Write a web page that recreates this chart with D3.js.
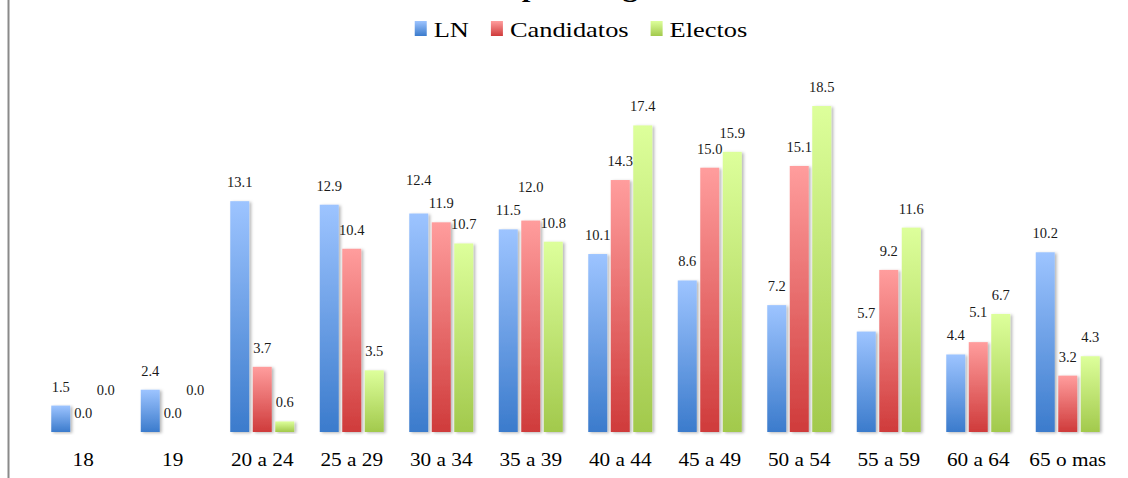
<!DOCTYPE html>
<html>
<head>
<meta charset="utf-8">
<script src="https://cdn.jsdelivr.net/npm/d3@7/dist/d3.min.js"></script>
<style>
  html, body { margin: 0; padding: 0; background: #fff; }
  svg { display: block; font-family: "Liberation Serif", "Times New Roman", serif; }
</style>
</head>
<body>
<div id="chart"></div>
<script>
const categories = ["18", "19", "20 a 24", "25 a 29", "30 a 34", "35 a 39", "40 a 44", "45 a 49", "50 a 54", "55 a 59", "60 a 64", "65 o mas"]
const seriesNames = ["LN", "Candidatos", "Electos"]
const lnValues = [1.5, 2.4, 13.1, 12.9, 12.4, 11.5, 10.1, 8.6, 7.2, 5.7, 4.4, 10.2]
const candidatosValues = [0.0, 0.0, 3.7, 10.4, 11.9, 12.0, 14.3, 15.0, 15.1, 9.2, 5.1, 3.2]
const electosValues = [0.0, 0.0, 0.6, 3.5, 10.7, 10.8, 17.4, 15.9, 18.5, 11.6, 6.7, 4.3]
const titleText = "Distribución por rango de edad"

const seriesValues = [lnValues, candidatosValues, electosValues]
const gradColors = [
  ["#9dc4ff", "#3b7bcc"],
  ["#ff9d9d", "#cf3b3b"],
  ["#ddff9b", "#a2c94c"]
]

const width = 1128
const height = 478
const baseY = 432

const svg = d3.select('#chart')
  .append('svg')
    .attr('width', width)
    .attr('height', height)

const defs = svg.append('defs')
gradColors.forEach((c, i) => {
  const g = defs.append('linearGradient')
    .attr('id', 'grad' + i)
    .attr('x1', 0).attr('y1', 0).attr('x2', 0).attr('y2', 1)
  g.append('stop').attr('offset', '0%').attr('stop-color', c[0])
  g.append('stop').attr('offset', '100%').attr('stop-color', c[1])
})
const shadow = defs.append('filter').attr('id', 'shadow')
  .attr('x', '-20%').attr('y', '-5%').attr('width', '160%').attr('height', '115%')
shadow.append('feDropShadow')
  .attr('dx', 2).attr('dy', 1).attr('stdDeviation', 1.6)
  .attr('flood-color', '#000').attr('flood-opacity', 0.28)

// left border of the chart area
svg.append('line')
  .attr('x1', 8.5).attr('x2', 8.5).attr('y1', 0).attr('y2', height)
  .attr('stroke', '#8a8a8a').attr('stroke-width', 2)

// title (mostly cut off at the top, as in the source picture)
svg.append('text')
  .attr('transform', 'translate(556, -3) scale(1.2, 1)')
  .attr('text-anchor', 'middle')
  .style('font-size', '26px')
  .style('font-weight', 'bold')
  .text(titleText)

const x0 = d3.scaleBand()
  .domain(categories)
  .range([38.5, 1112.5])
  .paddingInner(0.285)
  .paddingOuter(0.1425)

const x1 = d3.scaleBand()
  .domain(seriesNames)
  .range([0, x0.bandwidth()])
  .paddingInner(0.156)

const y = d3.scaleLinear()
  .domain([0, 20])
  .range([baseY, baseY - 352.4])

const data = categories.map((c, ci) => seriesNames.map((s, si) => ({
  cat: c, series: s, si: si, value: seriesValues[si][ci]
})))

const groups = svg.selectAll('.group')
  .data(data)
  .enter().append('g')
    .attr('class', 'group')
    .attr('transform', d => `translate(${x0(d[0].cat)},0)`)

groups.selectAll('rect')
  .data(d => d)
  .enter().append('rect')
    .attr('x', d => x1(d.series))
    .attr('y', d => y(d.value))
    .attr('width', x1.bandwidth())
    .attr('height', d => baseY - y(d.value))
    .attr('fill', d => `url(#grad${d.si})`)
    .attr('filter', 'url(#shadow)')

// x axis
const xAxis = svg.append('g')
  .attr('transform', `translate(0, ${baseY})`)
  .call(d3.axisBottom(x0).tickSize(0).tickPadding(0))
xAxis.select('.domain')
  .attr('d', `M${x0.range()[0]},0H${x0.range()[1]}`)
  .attr('stroke', '#878787').attr('stroke-width', 2)
  .attr('filter', 'url(#shadow)')
xAxis.selectAll('.tick text')
  .attr('y', 0).attr('dy', 0)
  .attr('transform', 'translate(0, 34) scale(1.12, 1)')
  .style('font-size', '19px')
  .style('font-family', '"Liberation Serif", serif')
  .attr('fill', '#000')

// data labels, pushed apart where they collide
const labelFont = 14.5
const labelGap = 23
groups.each(function (d) {
  const gx = x0(d[0].cat)
  const items = d.map(p => ({
    p: p,
    cx: gx + x1(p.series) + x1.bandwidth() / 2,
    cy: y(p.value) - 19,
    w: p.value.toFixed(1).length * labelFont * 0.5 - labelFont * 0.25
  }))
  const order = items.slice().sort((a, b) => a.p.value - b.p.value || a.p.si - b.p.si)
  const placed = []
  order.forEach(it => {
    placed.forEach(o => {
      const hx = Math.abs(it.cx - o.cx) < (it.w + o.w) / 2 + 5
      const hy = Math.abs(it.cy - o.cy) < 14
      if (hx && hy) it.cy = Math.min(it.cy, o.cy - labelGap)
    })
    placed.push(it)
  })
  d3.select(this.parentNode).append('g').selectAll('text')
    .data(items)
    .enter().append('text')
      .attr('x', it => it.cx)
      .attr('y', it => it.cy + 5)
      .attr('text-anchor', 'middle')
      .style('font-size', labelFont + 'px')
      .attr('fill', '#1a1a1a')
      .text(it => it.p.value.toFixed(1))
})

// legend
const legend = svg.append('g')
const items = legend.selectAll('g')
  .data(seriesNames)
  .enter().append('g')
items.append('rect')
  .attr('y', 21).attr('width', 12).attr('height', 15)
  .attr('fill', (d, i) => `url(#grad${i})`)
items.append('text')
  .attr('transform', 'translate(19, 37) scale(1.2, 1)')
  .style('font-size', '22px')
  .text(d => d)
let lx = 0
items.each(function () {
  const w = d3.select(this).select('text').node().getComputedTextLength() * 1.2
  d3.select(this).attr('transform', `translate(${lx},0)`)
  lx += 19 + w + 22
})
lx -= 22
legend.attr('transform', `translate(${581 - lx / 2},0)`)
</script>
</body>
</html>
